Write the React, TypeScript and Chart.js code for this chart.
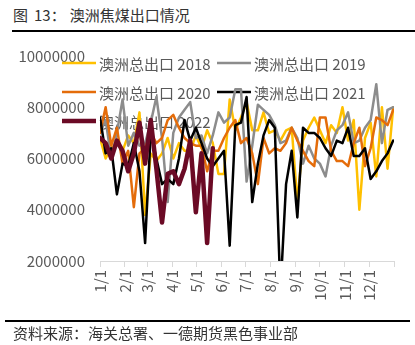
import React, { useEffect, useRef } from "react";
import { Chart, registerables } from "chart.js";

Chart.register(...registerables);

// Month tick positions (day of year) and their labels
const monthStartDays = [0, 31, 59, 90, 120, 151, 181, 212, 243, 273, 304, 334, 365];
const monthLabels = ["1/1", "2/1", "3/1", "4/1", "5/1", "6/1", "7/1", "8/1", "9/1", "10/1", "11/1", "12/1", ""];

// Weekly sample index (week number, 7 days apart)
const weekNumbers = Array.from({ length: 53 }, (_, i) => i);

const yTicks = [2000000, 4000000, 6000000, 8000000, 10000000];

const seriesNames = ["澳洲总出口 2018", "澳洲总出口 2019", "澳洲总出口 2020", "澳洲总出口 2021", "澳洲总出口 2022"];

const exports2018 = [
  6.8, 6.0, 6.4, 6.6, 6.3, 6.9, 6.6, 7.8, 3.8, 6.2, 5.9, 6.2, 6.8, 6.0, 6.6, 6.3, 6.3, 6.9, 6.4,
  7.1, 6.6, 5.4, 5.4, 8.3, 7.1, 7.6, 8.2, 7.1, 7.1, 7.8, 7.0, 7.1, 6.7, 7.1, 7.2, 4.3, 6.7, 7.2,
  7.6, 7.1, 6.6, 7.3, 7.0, 8.0, 6.7, 7.5, 4.0, 6.8, 7.4, 5.3, 8.0, 5.6, 8.0,
].map((v) => v * 1000000);

const exports2019 = [
  7.0, 7.5, 6.0, 7.0, 8.3, 6.5, 7.0, 6.5, 6.6, 7.4, 8.4, 6.8, 4.3, 7.0, 7.6, 7.9, 8.2, 6.8, 6.9,
  6.2, 6.9, 7.8, 7.4, 7.6, 8.7, 8.7, 5.1, 6.5, 8.1, 7.9, 7.7, 7.3, 6.6, 6.7, 7.2, 6.8, 5.8, 6.5,
  6.0, 5.8, 5.3, 6.5, 7.1, 7.3, 7.8, 6.6, 6.7, 7.2, 7.5, 8.9, 6.6, 7.9, 8.0,
].map((v) => v * 1000000);

const exports2020 = [
  7.0, 8.0, 6.5, 7.2, 5.8, 6.3, 4.1, 6.2, 6.4, 7.0, 6.6, 6.8, 7.5, 7.7, 7.2, 6.8, 6.6, 6.5, 6.5,
  5.5, 6.3, 6.3, 6.8, 7.2, 7.5, 6.6, 6.8, 6.2, 5.0, 6.8, 6.2, 6.4, 6.3, 6.6, 7.2, 6.7, 6.3, 5.9,
  5.7, 7.6, 7.6, 6.3, 5.9, 5.9, 5.7, 6.6, 7.2, 5.7, 6.4, 7.6, 7.5, 7.3, 7.9,
].map((v) => v * 1000000);

const exports2021 = [
  7.6, 6.2, 6.4, 4.6, 5.8, 5.7, 6.6, 5.5, 2.7, 7.0, 6.0, 5.0, 5.2, 5.0, 6.0, 7.5, 6.7, 7.2, 6.6,
  6.0, 5.7, 6.0, 6.3, 2.6, 7.3, 7.4, 8.4, 4.3, 5.8, 6.9, 7.5, 7.2, 0.8, 5.0, 6.3, 3.7, 7.2, 7.0,
  7.0, 6.8, 6.4, 6.1, 6.7, 6.6, 7.2, 6.1, 6.1, 6.4, 5.2, 5.5, 5.9, 6.2, 6.7,
].map((v) => v * 1000000);

const exports2022 = [
  6.8, 6.6, 6.0, 6.7, 6.3, 5.5, 6.2, 7.4, 5.8, 7.5, 5.6, 3.5, 5.4, 5.5, 5.0, 5.6, 6.7, 3.9, 6.2,
  2.7, 6.4,
].map((v) => v * 1000000);

const seriesColors = ["#FFC000", "#8C8C8C", "#E46C0A", "#000000", "#6B0A25"];
const seriesWidths = [2.5, 2.5, 2.5, 2.5, 4.5];

const FONT = '"Microsoft YaHei", "Noto Sans CJK SC", sans-serif';

function toPoints(values: number[]) {
  return values.map((v, i) => ({ x: weekNumbers[i] * 7, y: v }));
}

const inlineLegend = {
  id: "inlineLegend",
  beforeDatasetsDraw(chart: any) {
    const ctx = chart.ctx;
    const slots = [
      [62, 63],
      [217, 63],
      [62, 92],
      [217, 92],
      [62, 121],
    ];
    chart.data.datasets.forEach((ds: any, i: number) => {
      const [x, y] = slots[i];
      ctx.save();
      ctx.strokeStyle = ds.borderColor;
      ctx.lineWidth = ds.borderWidth;
      ctx.lineCap = "butt";
      ctx.beginPath();
      ctx.moveTo(x, y);
      ctx.lineTo(x + 34, y);
      ctx.stroke();
      ctx.fillStyle = "#595959";
      ctx.font = `15px ${FONT}`;
      ctx.textBaseline = "middle";
      ctx.textAlign = "left";
      ctx.fillText(ds.label, x + 37, y + 1);
      ctx.restore();
    });
  },
};

export default function App() {
  const canvasRef = useRef<HTMLCanvasElement | null>(null);

  useEffect(() => {
    if (!canvasRef.current) return;
    const allSeries = [exports2018, exports2019, exports2020, exports2021, exports2022];
    const chart = new Chart(canvasRef.current, {
      type: "line",
      data: {
        datasets: allSeries.map((vals, i) => ({
          label: seriesNames[i],
          data: toPoints(vals),
          borderColor: seriesColors[i],
          backgroundColor: seriesColors[i],
          borderWidth: seriesWidths[i],
          pointRadius: 0,
          tension: 0,
          borderJoinStyle: "round" as const,
          borderCapStyle: "round" as const,
          order: 5 - i,
        })),
      },
      options: {
        animation: false,
        responsive: false,
        layout: { padding: { left: 0, right: 13, top: 56, bottom: 44 } },
        plugins: {
          legend: { display: false },
          tooltip: { enabled: false },
        },
        scales: {
          x: {
            type: "linear",
            min: 0,
            max: 365,
            afterBuildTicks: (scale: any) => {
              scale.ticks = monthStartDays.map((v) => ({ value: v }));
            },
            afterFit: (scale: any) => {
              scale.height = 40;
            },
            ticks: {
              autoSkip: false,
              maxRotation: 90,
              minRotation: 90,
              padding: 3,
              color: "#595959",
              font: { family: FONT, size: 15 },
              callback: (v: any) => {
                const idx = monthStartDays.indexOf(Number(v));
                return idx >= 0 ? monthLabels[idx] : "";
              },
            },
            grid: {
              drawOnChartArea: false,
              drawTicks: true,
              tickLength: 6,
              color: "#D9D9D9",
            },
            border: { display: true, color: "#D9D9D9", width: 1 },
          },
          y: {
            min: 2000000,
            max: 10000000,
            afterBuildTicks: (scale: any) => {
              scale.ticks = yTicks.map((v) => ({ value: v }));
            },
            afterFit: (scale: any) => {
              scale.width = 100;
            },
            ticks: {
              padding: 15,
              color: "#595959",
              font: { family: FONT, size: 15 },
              callback: (v: any) => String(v),
            },
            grid: { display: false, drawTicks: false },
            border: { display: false },
          },
        },
      },
      plugins: [inlineLegend],
    });
    return () => chart.destroy();
  }, []);

  return (
    <div
      style={{
        position: "fixed",
        left: 0,
        top: 0,
        width: 415,
        height: 345,
        background: "#fff",
        overflow: "hidden",
        fontFamily: FONT,
      }}
    >
      <div
        style={{
          position: "absolute",
          left: 13,
          top: 5,
          fontSize: 15,
          lineHeight: "20px",
          color: "#333",
          whiteSpace: "nowrap",
        }}
      >
        <span>图</span>
        <span style={{ marginLeft: 6 }}>13：</span>
        <span style={{ marginLeft: 4 }}>澳洲焦煤出口情况</span>
      </div>
      <div style={{ position: "absolute", left: 12, top: 30, width: 403, height: 2, background: "#000" }} />
      <canvas ref={canvasRef} width={415} height={345} style={{ position: "absolute", left: 0, top: 0 }} />
      <div style={{ position: "absolute", left: 5, top: 320, width: 405, height: 1.5, background: "#000" }} />
      <div
        style={{
          position: "absolute",
          left: 13,
          top: 323,
          fontSize: 15,
          lineHeight: "20px",
          color: "#333",
          whiteSpace: "nowrap",
        }}
      >
        资料来源：海关总署、一德期货黑色事业部
      </div>
    </div>
  );
}
